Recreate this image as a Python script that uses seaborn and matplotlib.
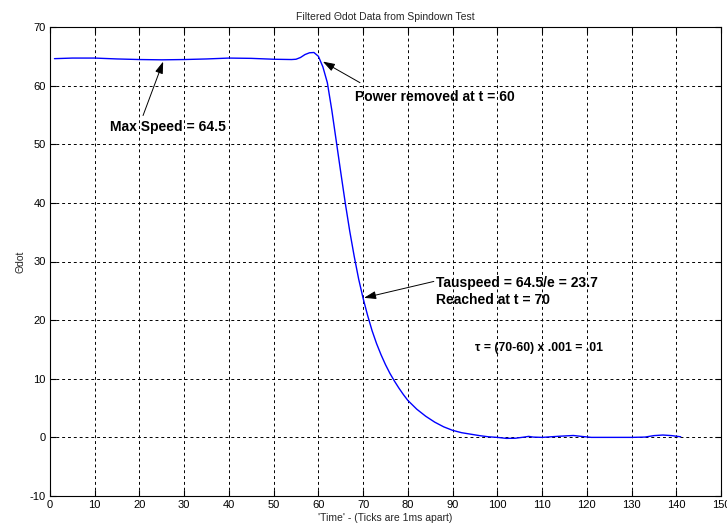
import matplotlib
matplotlib.use("Agg")
import matplotlib.pyplot as plt
import seaborn as sns
import pandas as pd

# Data
time_ms = [1, 5, 10, 15, 20, 25, 30, 35, 40, 45, 50, 54, 55, 56, 57, 58, 59,
           60, 61, 62, 63, 64, 65, 66, 67, 68, 69, 70, 71, 72, 73, 74, 75, 76,
           77, 78, 79, 80, 82, 84, 86, 88, 90, 92, 94, 96, 98, 100, 102, 104,
           106, 107, 108, 110, 112, 114, 117, 119, 121, 125, 130, 133, 135,
           137, 139, 141]
theta_dot = [64.6, 64.7, 64.7, 64.55, 64.45, 64.4, 64.45, 64.55, 64.7, 64.65,
             64.5, 64.45, 64.5, 64.8, 65.3, 65.6, 65.65,
             65.0, 63.2, 60.5, 55.8, 50.5, 45.2, 40.0, 35.2, 30.9, 27.0, 23.7,
             20.8, 18.2, 16.0, 14.1, 12.4, 10.9, 9.6, 8.4, 7.3, 6.3, 4.8, 3.6,
             2.6, 1.8, 1.2, 0.8, 0.55, 0.3, 0.1, 0.0, -0.17, -0.15,
             0.05, 0.17, 0.05, 0.0, 0.1, 0.2, 0.32, 0.15, 0.0, 0.0, 0.0, 0.05,
             0.3, 0.4, 0.3, 0.1]
x_ticks = list(range(0, 151, 10))
y_ticks = list(range(-10, 71, 10))

df = pd.DataFrame({"t": time_ms, "v": theta_dot})

sns.set_theme(style="white")
plt.rcParams["font.family"] = ["Liberation Sans", "DejaVu Sans"]

fig = plt.figure(figsize=(7.27, 5.29), dpi=100)
ax = fig.add_axes([50 / 727, 1 - 496 / 529, (721 - 50) / 727, (496 - 27) / 529])

sns.lineplot(data=df, x="t", y="v", ax=ax, color="#0000ff", linewidth=1.0)

ax.set_xlim(0, 150)
ax.set_ylim(-10, 70)
ax.set_xticks(x_ticks)
ax.set_yticks(y_ticks)
ax.set_xticklabels([str(t) for t in x_ticks])
ax.set_yticklabels([str(t) for t in y_ticks])
ax.tick_params(direction="in", length=4, width=0.8, colors="black",
               labelsize=8, pad=3, top=True, right=True, bottom=True, left=True)
ax.grid(True, color="black", linestyle=(0, (3, 3)), linewidth=0.7)
for s in ax.spines.values():
    s.set_color("black")
    s.set_linewidth(0.8)
    s.set_visible(True)

ax.set_title("Filtered \u0398dot Data from Spindown Test", fontsize=7.5, pad=5)
ax.set_xlabel("'Time' - (Ticks are 1ms apart)", fontsize=7.5, labelpad=2)
ax.set_ylabel("\u0398dot", fontsize=7.5, labelpad=3)

arrow = dict(arrowstyle="-|>,head_length=0.6,head_width=0.2", color="black",
             lw=0.7, shrinkA=0, shrinkB=0)
bold = dict(fontsize=10, fontweight="bold", color="black")

ax.annotate("", xy=(25.3, 64.1), xytext=(20.8, 54.9), arrowprops=arrow)
ax.text(13.4, 53.0, "Max Speed = 64.5", ha="left", va="center", **bold)

ax.annotate("", xy=(61.0, 64.1), xytext=(69.3, 60.5), arrowprops=arrow)
ax.text(68.2, 58.0, "Power removed at t = 60", ha="left", va="center", **bold)

ax.annotate("", xy=(70.2, 23.8), xytext=(85.8, 26.6), arrowprops=arrow)
ax.text(86.4, 26.3, "Tauspeed = 64.5/e = 23.7", ha="left", va="center", **bold)
ax.text(86.4, 23.4, "Reached at t = 70", ha="left", va="center", **bold)

ax.text(95.0, 15.2, "\u03c4 = (70-60) x .001 = .01", ha="left", va="center",
        fontsize=8.8, fontweight="bold", color="black")

fig.savefig("out.png", dpi=100)
